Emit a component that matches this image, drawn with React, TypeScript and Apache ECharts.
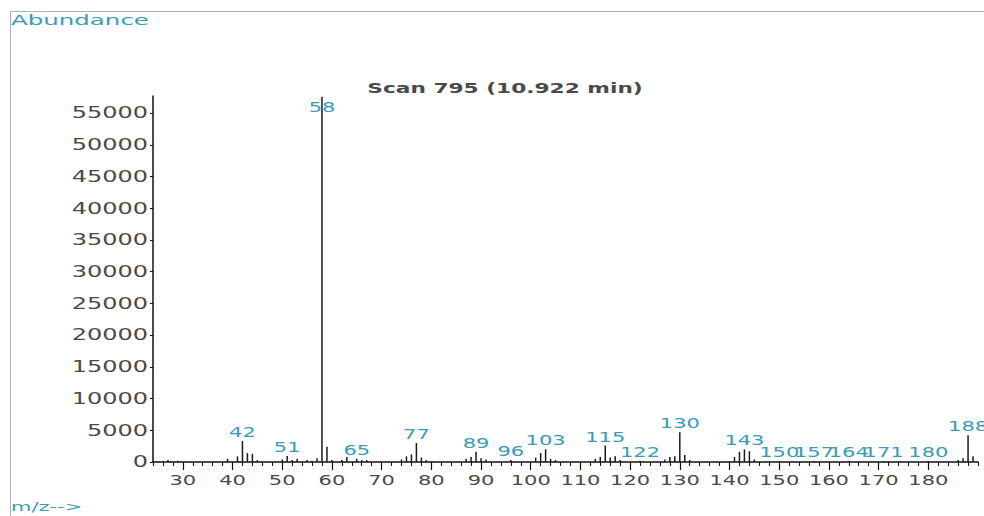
import React, { useEffect, useRef } from "react";
import * as echarts from "echarts";

const mzValues = [
  26, 27, 29, 39, 41, 42, 43, 44, 45, 50, 51, 52, 53, 55, 56, 57, 58, 59, 60, 62, 63, 65, 66, 67,
  74, 75, 76, 77, 78, 79, 87, 88, 89, 90, 91, 96, 101, 102, 103, 104, 105, 113, 114, 115, 116,
  117, 118, 122, 127, 128, 129, 130, 131, 132, 141, 142, 143, 144, 145, 150, 157, 164, 171, 180,
  186, 187, 188, 189,
];
const abundances = [
  150, 300, 200, 500, 900, 3300, 1400, 1300, 300, 400, 950, 300, 500, 300, 200, 600, 57600, 2400,
  300, 300, 800, 500, 300, 300, 400, 900, 1200, 3000, 700, 300, 500, 800, 1600, 600, 400, 300,
  700, 1400, 2000, 500, 300, 500, 800, 2600, 700, 900, 300, 200, 400, 800, 900, 4700, 1100, 300,
  800, 1600, 2000, 1700, 400, 150, 150, 150, 150, 150, 300, 600, 4200, 900,
];
const labeledPeaks = [42, 51, 58, 65, 77, 89, 96, 103, 115, 122, 130, 143, 150, 157, 164, 171, 180, 188];
const xTickLabels = [30, 40, 50, 60, 70, 80, 90, 100, 110, 120, 130, 140, 150, 160, 170, 180];
const yTickLabels = [0, 5000, 10000, 15000, 20000, 25000, 30000, 35000, 40000, 45000, 50000, 55000];
const titleText = "Scan 795 (10.922 min)";
const yAxisTitle = "Abundance";
const xAxisTitle = "m/z-->";

const FONT = "DejaVu Sans";
const TEAL = "#3a9bb8";
const GREY = "#4a4a4a";
const STRETCH = 1.5;

export default function App() {
  const ref = useRef<HTMLDivElement>(null);
  useEffect(() => {
    if (!ref.current) return;
    const chart = echarts.init(ref.current, null, { renderer: "svg" });
    const data = mzValues.map((mz, i) => ({ value: [mz, abundances[i]] }));
    chart.setOption({
      animation: false,
      backgroundColor: "#ffffff",
      grid: { left: 153, right: 6, top: 96, bottom: 54, containLabel: false },
      xAxis: [
        {
          type: "value",
          min: 24,
          max: 190,
          interval: 2,
          position: "bottom",
          axisLine: { show: true, lineStyle: { color: "#111", width: 1.5 } },
          axisTick: { show: true, length: 4, lineStyle: { color: "#111", width: 1 } },
          axisLabel: { show: false },
          splitLine: { show: false },
        },
        {
          type: "value",
          min: 24,
          max: 190,
          interval: 2,
          position: "bottom",
          offset: 0,
          axisLine: { show: false },
          axisTick: {
            show: true,
            length: 8,
            customValues: xTickLabels,
            lineStyle: { color: "#111", width: 1.2 },
          },
          axisLabel: { show: false },
          splitLine: { show: false },
        },
      ],
      yAxis: {
        type: "value",
        min: 0,
        max: 57700,
        interval: 5000,
        axisLine: { show: true, lineStyle: { color: "#111", width: 1.5 } },
        axisTick: {
          show: true,
          length: 3,
          customValues: yTickLabels,
          lineStyle: { color: "#111", width: 1 },
        },
        axisLabel: { show: false },
        splitLine: { show: false },
      },
      series: [
        {
          type: "bar",
          xAxisIndex: 0,
          yAxisIndex: 0,
          barWidth: 1.5,
          itemStyle: { color: "#1a1a1a" },
          data,
        },
      ],
    });

    const toPx = (x: number, y: number) =>
      chart.convertToPixel({ gridIndex: 0 } as any, [x, y]) as number[];

    const texts: any[] = [];
    // y tick labels
    yTickLabels.forEach((v) => {
      const [px, py] = toPx(24, v);
      texts.push({
        type: "text",
        x: px - 5,
        y: py,
        scaleX: 1.6,
        style: {
          text: String(v),
          fontSize: 15,
          fontFamily: FONT,
          fill: GREY,
          textAlign: "right",
          textVerticalAlign: "middle",
        },
      });
    });
    // x tick labels
    xTickLabels.forEach((v) => {
      const [px, py] = toPx(v, 0);
      texts.push({
        type: "text",
        x: px,
        y: py + 11,
        scaleX: STRETCH,
        style: {
          text: String(v),
          fontSize: 14,
          fontFamily: FONT,
          fill: GREY,
          textAlign: "center",
          textVerticalAlign: "top",
        },
      });
    });
    // peak labels
    mzValues.forEach((mz, i) => {
      if (!labeledPeaks.includes(mz)) return;
      const [px, py] = toPx(mz, abundances[i]);
      const isBase = mz === 58;
      texts.push({
        type: "text",
        x: px,
        y: isBase ? py + 3 : py - 2,
        scaleX: STRETCH,
        z: 10,
        style: {
          text: String(mz),
          fontSize: 14,
          fontFamily: FONT,
          fill: TEAL,
          textAlign: "center",
          textVerticalAlign: isBase ? "top" : "bottom",
        },
      });
    });

    chart.setOption({
      graphic: [
        {
          type: "line",
          shape: { x1: 10.5, y1: 11.5, x2: 984, y2: 11.5 },
          style: { stroke: "#b0b0b0", lineWidth: 1 },
          silent: true,
        },
        {
          type: "line",
          shape: { x1: 10.5, y1: 11.5, x2: 10.5, y2: 516 },
          style: { stroke: "#b0b0b0", lineWidth: 1 },
          silent: true,
        },
        {
          type: "text",
          x: 11,
          y: 13,
          scaleX: 1.75,
          style: { text: yAxisTitle, fontSize: 14, fontFamily: FONT, fill: TEAL, textVerticalAlign: "top" },
        },
        {
          type: "text",
          x: 505,
          y: 88,
          scaleX: 1.55,
          style: {
            text: titleText,
            fontSize: 14,
            fontWeight: "bold",
            fontFamily: FONT,
            fill: GREY,
            textAlign: "center",
            textVerticalAlign: "middle",
          },
        },
        {
          type: "text",
          x: 11,
          y: 501,
          scaleX: 1.75,
          style: { text: xAxisTitle, fontSize: 12, fontFamily: FONT, fill: TEAL, textVerticalAlign: "top" },
        },
        ...texts,
      ],
    });
    return () => chart.dispose();
  }, []);
  return (
    <div
      ref={ref}
      style={{ position: "fixed", left: 0, top: 0, width: 984, height: 516, background: "#fff" }}
    />
  );
}
